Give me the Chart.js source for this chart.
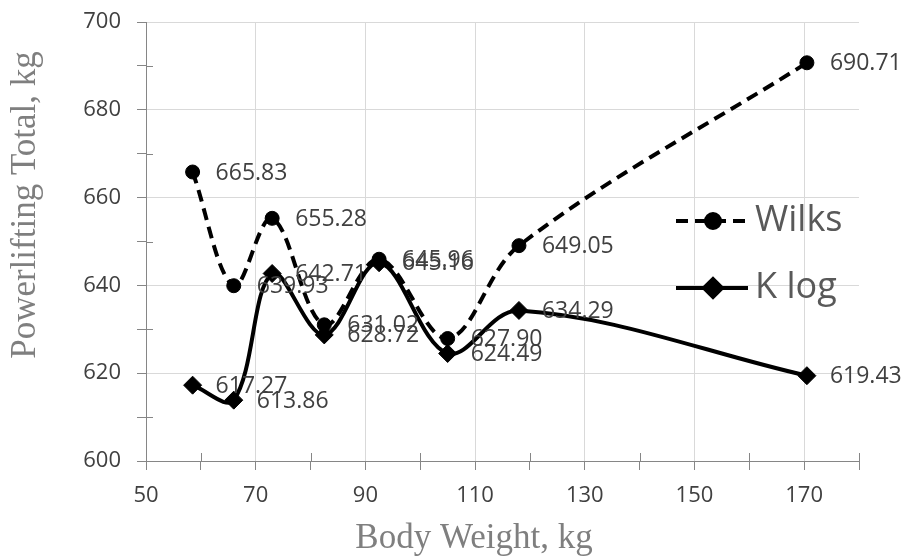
<!DOCTYPE html>
<html>
<head>
<meta charset="utf-8">
<script src="https://cdn.jsdelivr.net/npm/chart.js@4/dist/chart.umd.min.js"></script>
<style>
  html, body { margin: 0; padding: 0; background: #fff; }
  canvas { display: block; }
</style>
</head>
<body>
<canvas id="liftChart" width="908" height="556"></canvas>
<script>
// body weights (kg)
const bodyWeights = [58.5, 66, 73, 82.5, 92.5, 105, 118, 170.5];
const wilksTotals = [665.83, 639.93, 655.28, 631.02, 645.96, 627.90, 649.05, 690.71];
const klogTotals = [617.27, 613.86, 642.71, 628.72, 645.16, 624.49, 634.29, 619.43];
const seriesNames = ["Wilks", "K log"];
const xTitle = "Body Weight, kg";
const yTitle = "Powerlifting Total, kg";

const gridGray = "#d9d9d9";
const axisGray = "#868686";

function toPoints(ys) {
    return bodyWeights.map((x, i) => ({ x: x, y: ys[i] }));
}

// value labels to the right of every point
const valueLabels = {
    id: "valueLabels",
    afterDatasetsDraw(chart) {
        const ctx = chart.ctx;
        ctx.save();
        ctx.font = "23px 'Open Sans'";
        ctx.fillStyle = "#404040";
        ctx.textAlign = "left";
        ctx.textBaseline = "middle";
        chart.data.datasets.forEach((ds, i) => {
            chart.getDatasetMeta(i).data.forEach((pt, j) => {
                ctx.fillText(ds.data[j].y.toFixed(2), pt.x + 23, pt.y + 1);
            });
        });
        ctx.restore();
    }
};

// minor ticks cross the axis line, like the original
const minorTicks = {
    id: "minorTicks",
    afterDraw(chart) {
        const ctx = chart.ctx;
        const xs = chart.scales.x, ys = chart.scales.y;
        ctx.save();
        ctx.strokeStyle = axisGray;
        ctx.lineWidth = 1;
        ctx.beginPath();
        xs.ticks.forEach(t => {
            if ((t.value - 50) % 20 !== 0) {
                const px = Math.round(xs.getPixelForValue(t.value)) + 0.5;
                ctx.moveTo(px, ys.bottom);
                ctx.lineTo(px, ys.bottom - 8);
            }
        });
        ys.ticks.forEach(t => {
            if (t.value % 20 !== 0) {
                const py = Math.round(ys.getPixelForValue(t.value)) + 0.5;
                ctx.moveTo(xs.left, py);
                ctx.lineTo(xs.left + 7, py);
            }
        });
        ctx.stroke();
        ctx.restore();
    }
};

// legend sits inside the plot on the right
const insideLegend = {
    id: "insideLegend",
    afterDraw(chart) {
        const ctx = chart.ctx;
        const rows = [221, 288];
        ctx.save();
        chart.data.datasets.forEach((ds, i) => {
            const y = rows[i];
            ctx.strokeStyle = "#000";
            ctx.lineWidth = 4;
            ctx.setLineDash(ds.borderDash || []);
            ctx.beginPath();
            ctx.moveTo(676, y);
            ctx.lineTo(748, y);
            ctx.stroke();
            ctx.setLineDash([]);
            ctx.fillStyle = "#000";
            Chart.helpers.drawPoint(ctx, {
                pointStyle: ds.pointStyle,
                radius: ds.pointRadius,
                borderWidth: 1
            }, 713, y);
            ctx.fillStyle = "#595959";
            ctx.font = "36px 'Open Sans'";
            ctx.textAlign = "left";
            ctx.textBaseline = "middle";
            ctx.fillText(ds.label, 755, y);
        });
        ctx.restore();
    }
};

// serif axis titles
const axisTitles = {
    id: "axisTitles",
    afterDraw(chart) {
        const ctx = chart.ctx;
        ctx.save();
        ctx.fillStyle = "#7f7f7f";
        ctx.font = "35px 'Liberation Serif'";
        ctx.textAlign = "center";
        ctx.textBaseline = "alphabetic";
        ctx.fillText(xTitle, 474, 548);
        ctx.translate(35, 205);
        ctx.rotate(-Math.PI / 2);
        ctx.fillText(yTitle, 0, 0);
        ctx.restore();
    }
};

const ctx = document.getElementById("liftChart").getContext("2d");

new Chart(ctx, {
    type: "line",
    data: {
        datasets: [{
            label: seriesNames[0],
            data: toPoints(wilksTotals),
            borderColor: "#000",
            backgroundColor: "#000",
            borderWidth: 4,
            borderDash: [12, 7],
            tension: 0.35,
            pointStyle: "circle",
            pointRadius: 7,
            pointBorderWidth: 1,
            pointBackgroundColor: "#000",
            pointBorderColor: "#000",
            fill: false
        }, {
            label: seriesNames[1],
            data: toPoints(klogTotals),
            borderColor: "#000",
            backgroundColor: "#000",
            borderWidth: 4,
            tension: 0.35,
            pointStyle: "rectRot",
            pointRadius: 9,
            pointBorderWidth: 1,
            pointBackgroundColor: "#000",
            pointBorderColor: "#000",
            fill: false
        }]
    },
    options: {
        responsive: false,
        animation: false,
        devicePixelRatio: 1,
        layout: {
            padding: { left: 0, right: 49, top: 22, bottom: 0 }
        },
        plugins: {
            legend: { display: false },
            tooltip: { enabled: false }
        },
        scales: {
            x: {
                type: "linear",
                min: 50,
                max: 180,
                afterFit: s => { s.height = 95; s.paddingLeft = 0; s.paddingRight = 0; },
                ticks: {
                    stepSize: 10,
                    autoSkip: false,
                    maxRotation: 0,
                    padding: 13,
                    color: "#404040",
                    font: { family: "'Open Sans'", size: 22 },
                    callback: v => ((v - 50) % 20 === 0 ? v : "")
                },
                grid: {
                    color: c => (c.tick && (c.tick.value - 50) % 20 === 0 ? gridGray : "rgba(0,0,0,0)"),
                    tickColor: axisGray,
                    tickLength: 9
                },
                border: { color: axisGray, width: 1 }
            },
            y: {
                min: 600,
                max: 700,
                afterFit: s => { s.width = 146; s.paddingTop = 0; s.paddingBottom = 0; },
                ticks: {
                    stepSize: 10,
                    autoSkip: false,
                    padding: 16,
                    color: "#404040",
                    font: { family: "'Open Sans'", size: 22 },
                    callback: v => (v % 20 === 0 ? v : "")
                },
                grid: {
                    color: c => (c.tick && c.tick.value % 20 === 0 ? gridGray : "rgba(0,0,0,0)"),
                    tickColor: axisGray,
                    tickLength: 9
                },
                border: { color: axisGray, width: 1 }
            }
        }
    },
    plugins: [valueLabels, minorTicks, insideLegend, axisTitles]
});
</script>
</body>
</html>
